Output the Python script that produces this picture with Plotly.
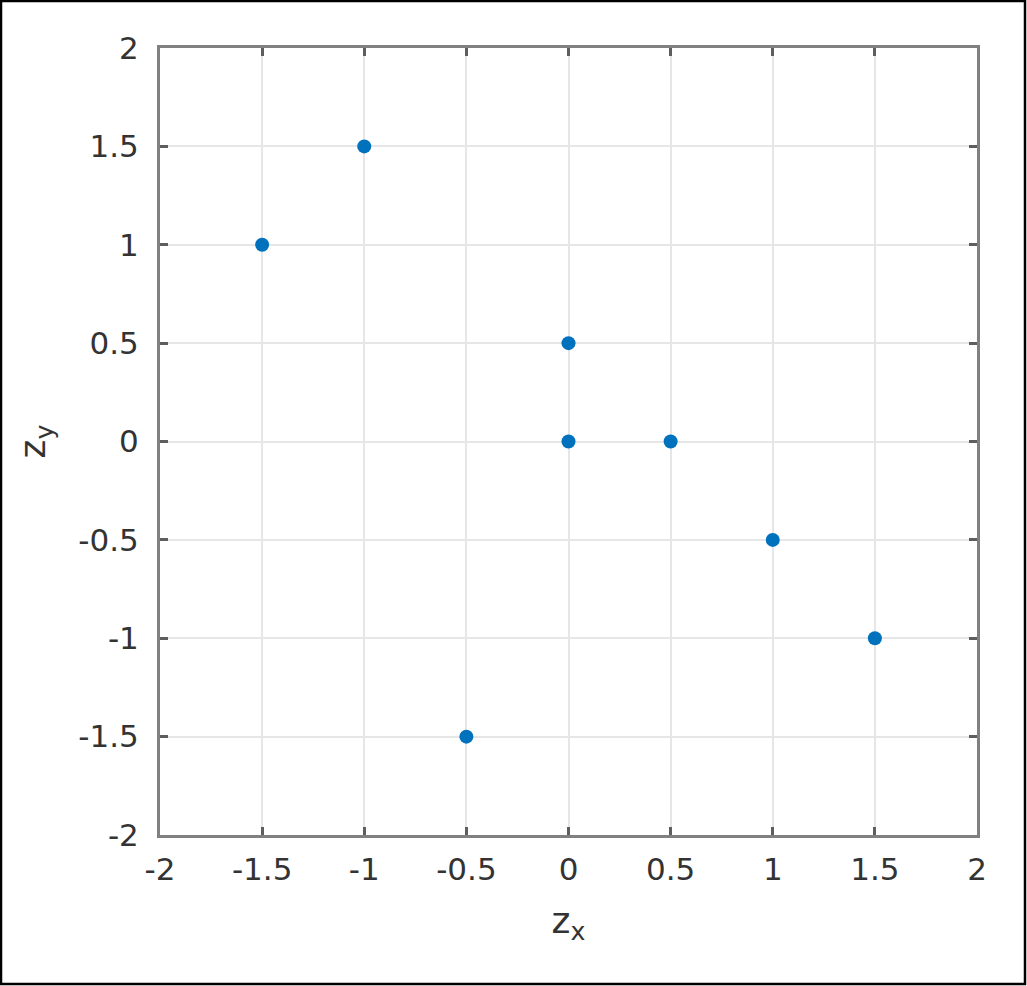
import plotly.graph_objects as go

zx = [-1.5, -1.0, 0.0, 0.0, 0.5, 1.0, 1.5, -0.5]
zy = [1.0, 1.5, 0.5, 0.0, 0.0, -0.5, -1.0, -1.5]
tick_vals = [-2, -1.5, -1, -0.5, 0, 0.5, 1, 1.5, 2]
tick_text = ["-2", "-1.5", "-1", "-0.5", "0", "0.5", "1", "1.5", "2"]

W, H = 1027, 986
L, R, T, B = 160, 50, 48, 151
pw, ph = W - L - R, H - T - B

fig = go.Figure()
fig.add_trace(go.Scatter(
    x=zx, y=zy, mode="markers",
    marker=dict(color="#0072BD", size=14, line=dict(width=0)),
    showlegend=False,
))

axis_common = dict(
    range=[-2, 2],
    tickmode="array",
    tickvals=tick_vals,
    ticktext=tick_text,
    ticks="inside",
    ticklen=8,
    tickwidth=2.5,
    tickcolor="#5e5e5e",
    showline=True,
    linecolor="#808080",
    linewidth=3,
    mirror="ticks",
    showgrid=True,
    gridcolor="#e6e6e6",
    gridwidth=1.5,
    zeroline=False,
    tickfont=dict(family="DejaVu Sans", size=31, color="#333333"),
)

fig.update_layout(
    width=W, height=H,
    margin=dict(l=L, r=R, t=T, b=B, autoexpand=False),
    paper_bgcolor="white",
    plot_bgcolor="white",
    xaxis=dict(**axis_common, ticklabelstandoff=5,
               title=dict(text="z<sub>x</sub>", standoff=22,
                          font=dict(family="DejaVu Sans", size=36, color="#333333"))),
    yaxis=dict(**axis_common, ticklabelstandoff=12,
               title=dict(text="z<sub>y</sub>", standoff=22,
                          font=dict(family="DejaVu Sans", size=36, color="#333333"))),
    shapes=[dict(
        type="rect", xref="paper", yref="paper",
        x0=(1 - L) / pw, x1=(W - 2 - L) / pw,
        y0=(H - B - (H - 2)) / ph, y1=(H - B - 1) / ph,
        line=dict(color="black", width=2.5), fillcolor="rgba(0,0,0,0)",
        layer="above",
    )],
)

fig.write_html("out.html",
               config={"displayModeBar": False},
               post_script="document.body.style.margin='0';document.body.style.overflow='hidden';")
